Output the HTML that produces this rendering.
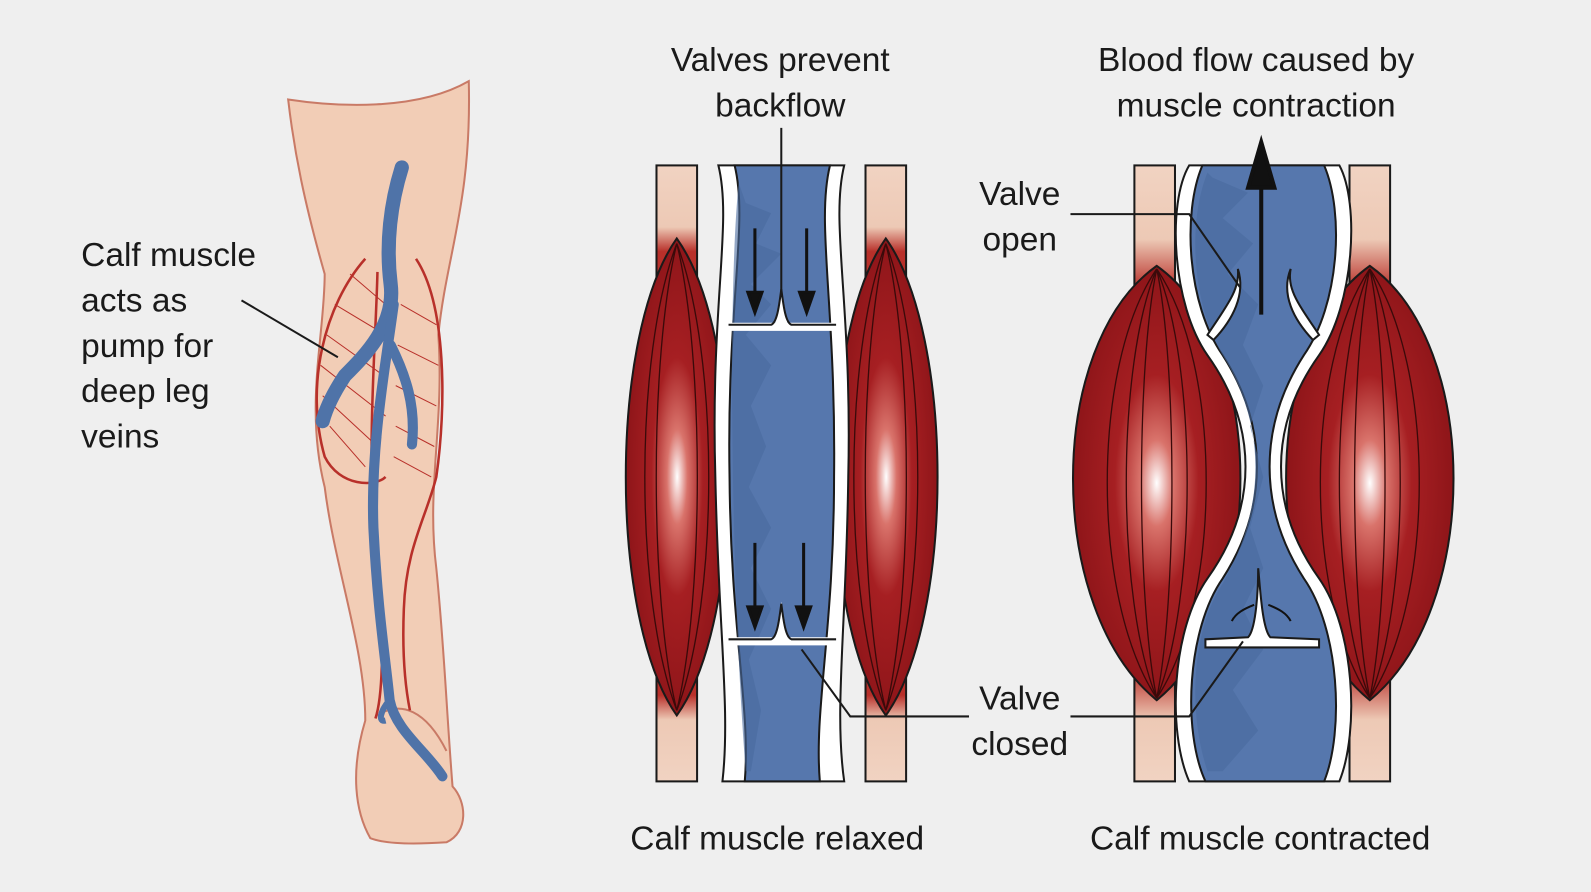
<!DOCTYPE html>
<html><head><meta charset="utf-8"><style>
html,body{margin:0;padding:0;background:#efefef;}
svg{display:block}
text{font-family:"Liberation Sans",sans-serif;fill:#1a1a1a;}
</style></head><body>
<svg width="1591" height="892" viewBox="0 0 1568 879" preserveAspectRatio="none" xmlns="http://www.w3.org/2000/svg">
<defs>
<linearGradient id="skin" x1="0" y1="0" x2="0" y2="1">
<stop offset="0" stop-color="#f1d3c2"/><stop offset="0.1" stop-color="#edc9b5"/><stop offset="0.14" stop-color="#b8302a"/><stop offset="0.86" stop-color="#b8302a"/><stop offset="0.9" stop-color="#edc9b5"/><stop offset="1" stop-color="#f1d3c2"/>
</linearGradient>
<linearGradient id="skin2" x1="0" y1="0" x2="0" y2="1">
<stop offset="0" stop-color="#f1d3c2"/><stop offset="0.12" stop-color="#edc9b5"/><stop offset="0.2" stop-color="#b8302a"/><stop offset="0.82" stop-color="#b8302a"/><stop offset="0.9" stop-color="#edc9b5"/><stop offset="1" stop-color="#f1d3c2"/>
</linearGradient>
<radialGradient id="mus" cx="0.5" cy="0.5" r="0.5">
<stop offset="0" stop-color="#ffffff"/><stop offset="0.2" stop-color="#d9736b"/><stop offset="0.5" stop-color="#a61f22"/><stop offset="1" stop-color="#8e1519"/>
</radialGradient>
</defs>
<rect width="1568" height="879" fill="#efefef"/>

<!-- Leg -->
<path d="M284,98 C330,105 410,110 462,80 C465,200 440,250 432,330 C438,420 420,480 430,560 C438,640 440,700 446,775 C460,790 462,820 440,830 C410,832 380,832 365,826 C350,800 345,760 360,710 C360,640 330,560 320,480 C300,400 320,330 320,270 C300,200 290,150 284,98 Z" fill="#f2cdb6" stroke="#c97a66" stroke-width="2"/>
<path d="M372,705 C395,690 420,700 440,740" fill="none" stroke="#c97a66" stroke-width="2"/>
<path d="M360,255 C320,300 300,380 320,450 C335,480 370,480 380,470 M410,255 C440,300 440,400 430,470 C420,510 400,540 398,600 C396,650 400,680 404,700" fill="none" stroke="#b8302a" stroke-width="2.5"/>
<g stroke="#b8302a" stroke-width="1" fill="none">
<path d="M330,300 L380,330 M322,330 L378,370 M316,360 L380,410 M318,390 L372,440 M325,420 L360,460 M345,270 L380,300 M395,300 L430,320 M392,340 L432,360 M390,380 L430,400 M390,420 L428,440 M388,450 L425,470"/>
</g>
<path d="M372,268 C370,350 360,450 372,560 C380,640 376,690 370,708" fill="none" stroke="#b8302a" stroke-width="2.5"/>
<path d="M396,165 C385,200 380,240 385,280 C390,320 360,350 340,370 C330,385 322,400 318,415" fill="none" stroke="#4f73a8" stroke-width="14" stroke-linecap="round"/>
<path d="M388,300 C380,360 365,440 368,520 C372,600 380,650 384,690 C390,720 420,740 436,765" fill="none" stroke="#4f73a8" stroke-width="10" stroke-linecap="round"/>
<path d="M385,340 C400,370 410,400 406,438" fill="none" stroke="#4f73a8" stroke-width="10" stroke-linecap="round"/>
<path d="M384,690 C375,700 372,712 380,710" fill="none" stroke="#4f73a8" stroke-width="6"/>
<line x1="238" y1="296" x2="333" y2="352" stroke="#1a1a1a" stroke-width="2"/>
<text font-size="33" x="80" y="262">Calf muscle</text>
<text font-size="33" x="80" y="307">acts as</text>
<text font-size="33" x="80" y="352">pump for</text>
<text font-size="33" x="80" y="396">deep leg</text>
<text font-size="33" x="80" y="441">veins</text>

<!-- Relaxed panel -->
<rect x="647" y="163" width="40" height="607" fill="url(#skin)" stroke="#1a1a1a" stroke-width="2"/>
<rect x="853" y="163" width="40" height="607" fill="url(#skin)" stroke="#1a1a1a" stroke-width="2"/>
<path d="M667,235 C600,330 600,610 667,705 C735,610 735,330 667,235 Z" fill="url(#mus)" stroke="#1a1a1a" stroke-width="2"/>
<path d="M873,235 C806,330 806,610 873,705 C941,610 941,330 873,235 Z" fill="url(#mus)" stroke="#1a1a1a" stroke-width="2"/>
<g stroke="#3a0a0a" stroke-width="1.3" fill="none">
<path d="M667,240 C640,350 640,590 667,700 M667,240 C694,350 694,590 667,700 M667,240 C625,350 625,590 667,700 M667,240 C709,350 709,590 667,700"/>
<path d="M873,240 C846,350 846,590 873,700 M873,240 C900,350 900,590 873,700 M873,240 C831,350 831,590 873,700 M873,240 C915,350 915,590 873,700"/>
</g>
<path d="M708,163 C722,220 700,300 705,470 C708,620 720,700 712,770 L832,770 C822,700 834,620 836,470 C840,300 818,220 832,163 Z" fill="#fff" stroke="#1a1a1a" stroke-width="2"/>
<path d="M724,163 C738,220 716,300 719,470 C720,620 740,700 734,770 L808,770 C802,700 822,620 822,470 C824,300 804,220 818,163 Z" fill="#5677ad" stroke="#1a1a1a" stroke-width="2"/>
<path d="M735,200 L760,210 L745,240 L770,250 L740,280 L760,300 L735,330 L760,360 L740,400 L755,440 L738,480 L760,520 L740,560 L760,600 L738,650 L750,700 L740,760 L735,760 C722,600 716,300 728,180 Z" fill="#4a6a9e" opacity="0.6"/>
<g fill="#fff">
<path d="M718,318 L764,318 L770,283 L776,318 L824,318 L824,326 L716,326 Z"/>
<path d="M718,628 L764,628 L770,593 L776,628 L824,628 L824,636 L716,636 Z"/>
</g>
<g stroke="#1a1a1a" stroke-width="2" fill="none">
<path d="M718,320 L760,320 C766,318 768,300 770,285 C772,300 774,318 780,320 L824,320"/>
<path d="M718,630 L760,630 C766,628 768,610 770,595 C772,610 774,628 780,630 L824,630"/>
</g>
<g stroke="#111" stroke-width="3" fill="#111">
<line x1="744" y1="225" x2="744" y2="295"/><path d="M737,288 L744,308 L751,288 Z"/>
<line x1="795" y1="225" x2="795" y2="295"/><path d="M788,288 L795,308 L802,288 Z"/>
<line x1="744" y1="535" x2="744" y2="605"/><path d="M737,598 L744,618 L751,598 Z"/>
<line x1="792" y1="535" x2="792" y2="605"/><path d="M785,598 L792,618 L799,598 Z"/>
</g>
<line x1="770" y1="126" x2="770" y2="292" stroke="#1a1a1a" stroke-width="2"/>
<text font-size="33" x="769" y="70" text-anchor="middle">Valves prevent</text>
<text font-size="33" x="769" y="115" text-anchor="middle">backflow</text>
<text font-size="33" x="766" y="837" text-anchor="middle">Calf muscle relaxed</text>

<!-- Contracted panel -->
<rect x="1118" y="163" width="40" height="607" fill="url(#skin2)" stroke="#1a1a1a" stroke-width="2"/>
<rect x="1330" y="163" width="40" height="607" fill="url(#skin2)" stroke="#1a1a1a" stroke-width="2"/>
<path d="M1140,262 C1030,340 1030,600 1140,690 C1250,600 1250,340 1140,262 Z" fill="url(#mus)" stroke="#1a1a1a" stroke-width="2"/>
<path d="M1350,262 C1240,340 1240,600 1350,690 C1460,600 1460,340 1350,262 Z" fill="url(#mus)" stroke="#1a1a1a" stroke-width="2"/>
<g stroke="#3a0a0a" stroke-width="1.3" fill="none">
<path d="M1140,265 C1100,360 1100,590 1140,688 M1140,265 C1180,360 1180,590 1140,688 M1140,265 C1075,360 1075,590 1140,688 M1140,265 C1205,360 1205,590 1140,688 M1140,265 C1120,360 1120,590 1140,688 M1140,265 C1160,360 1160,590 1140,688"/>
<path d="M1350,265 C1310,360 1310,590 1350,688 M1350,265 C1390,360 1390,590 1350,688 M1350,265 C1285,360 1285,590 1350,688 M1350,265 C1415,360 1415,590 1350,688 M1350,265 C1330,360 1330,590 1350,688 M1350,265 C1370,360 1370,590 1350,688"/>
</g>
<path d="M1172,163 C1150,200 1155,300 1190,350 C1240,420 1240,500 1190,570 C1155,620 1150,720 1172,770 L1320,770 C1340,720 1335,620 1300,570 C1250,500 1250,420 1300,350 C1335,300 1340,200 1320,163 Z" fill="#fff" stroke="#1a1a1a" stroke-width="2"/>
<path d="M1185,163 C1165,210 1170,300 1205,350 C1250,420 1250,500 1205,570 C1170,620 1165,720 1188,770 L1305,770 C1325,720 1320,620 1285,570 C1240,500 1240,420 1285,350 C1320,300 1325,210 1305,163 Z" fill="#5677ad" stroke="#1a1a1a" stroke-width="2"/>
<path d="M1195,175 L1230,190 L1205,215 L1235,240 L1210,270 L1240,300 L1225,340 L1245,380 L1232,420 L1245,470 L1232,520 L1245,560 L1225,600 L1245,640 L1215,680 L1240,720 L1205,760 L1190,760 C1170,700 1175,620 1205,575 C1248,500 1248,420 1205,350 C1175,300 1170,220 1190,170 Z" fill="#4a6a9e" opacity="0.6"/>
<g stroke="#1a1a1a" stroke-width="2" fill="#fff">
<path d="M1190,330 C1210,300 1222,285 1220,265 C1228,290 1215,315 1196,335 Z"/>
<path d="M1300,330 C1280,300 1268,285 1272,265 C1262,290 1275,315 1294,335 Z"/>
<path d="M1188,630 L1230,628 C1238,620 1240,580 1240,560 C1242,580 1244,620 1252,628 L1300,630 L1300,638 L1188,638 Z"/>
</g>
<g stroke="#111" stroke-width="4" fill="#111">
<line x1="1243" y1="175" x2="1243" y2="310"/><path d="M1230,185 L1243,140 L1256,185 Z"/>
</g>
<g stroke="#111" stroke-width="2" fill="none">
<path d="M1236,596 C1226,600 1218,604 1214,612"/><path d="M1250,596 C1260,600 1268,604 1272,612"/>
</g>
<g stroke="#1a1a1a" stroke-width="2" fill="none">
<path d="M1055,211 L1172,211 L1222,283"/>
<path d="M1055,706 L1172,706 L1225,632"/>
<path d="M955,706 L838,706 L790,640"/>
</g>
<text font-size="33" x="1238" y="70" text-anchor="middle">Blood flow caused by</text>
<text font-size="33" x="1238" y="115" text-anchor="middle">muscle contraction</text>
<text font-size="33" x="1005" y="202" text-anchor="middle">Valve</text>
<text font-size="33" x="1005" y="247" text-anchor="middle">open</text>
<text font-size="33" x="1005" y="699" text-anchor="middle">Valve</text>
<text font-size="33" x="1005" y="744" text-anchor="middle">closed</text>
<text font-size="33" x="1242" y="837" text-anchor="middle">Calf muscle contracted</text>
</svg>
</body></html>
